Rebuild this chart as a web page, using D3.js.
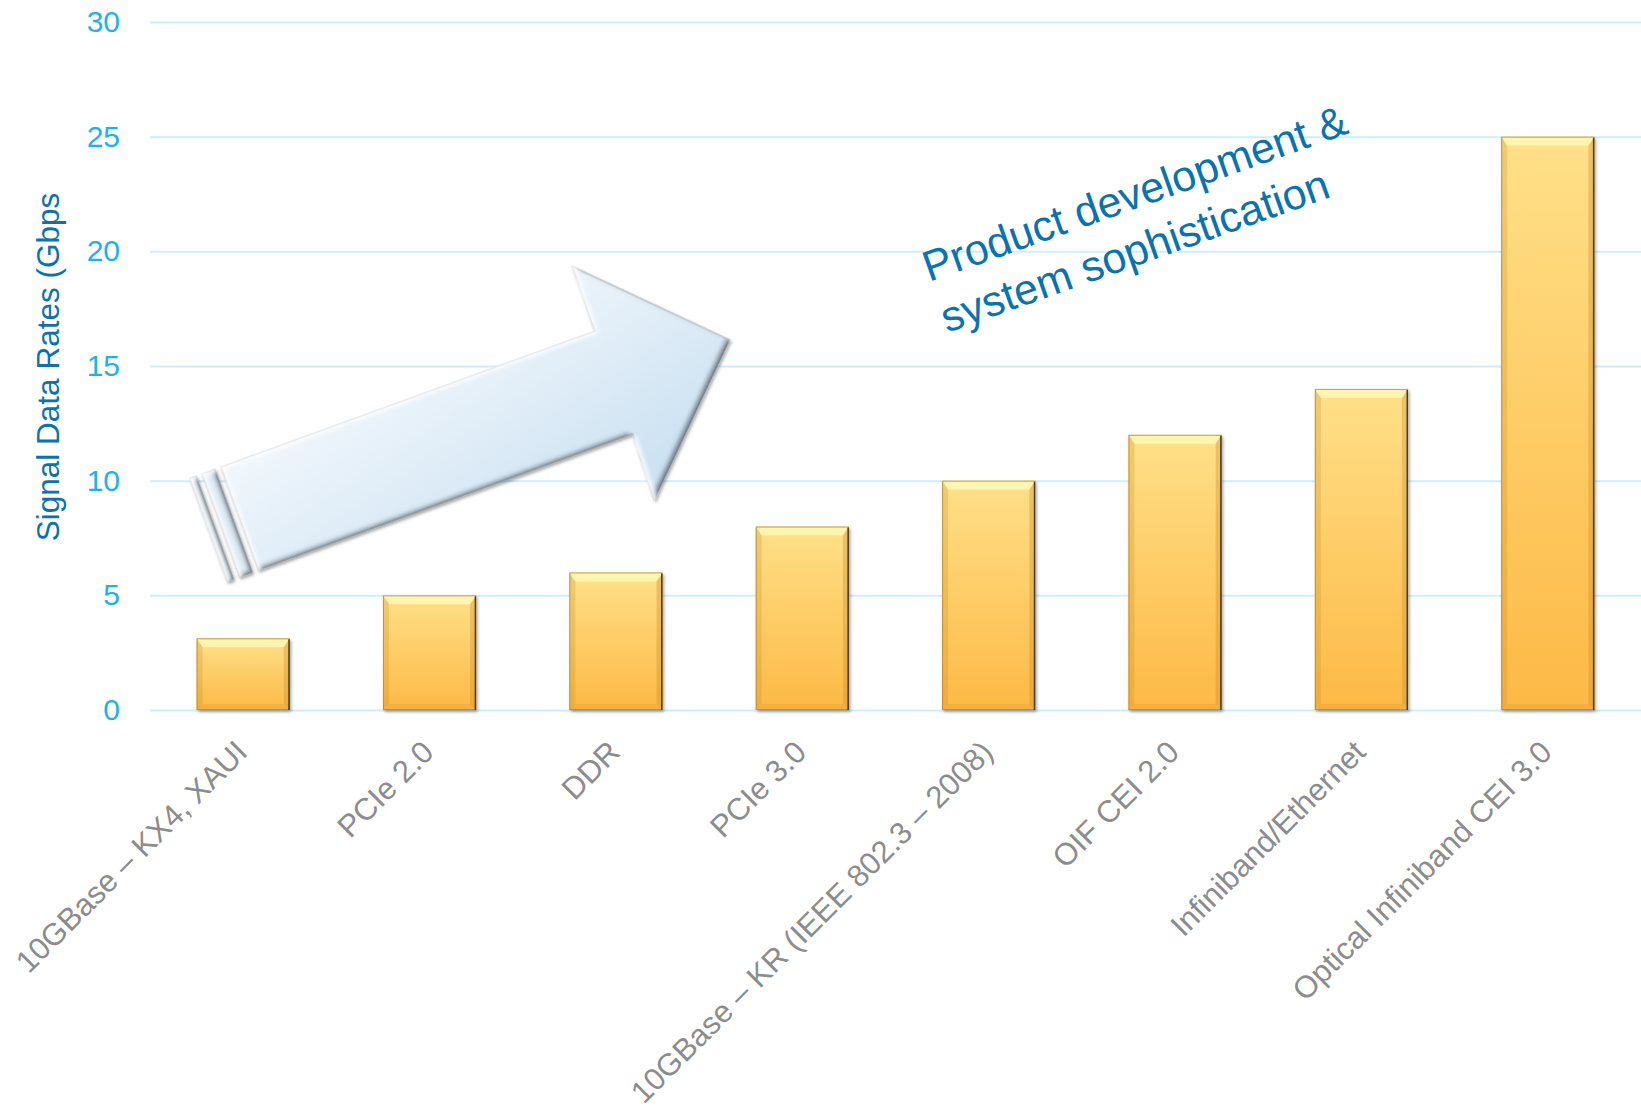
<!DOCTYPE html>
<html>
<head>
<meta charset="utf-8">
<script src="https://cdn.jsdelivr.net/npm/d3@7"></script>
<style>
  body { margin: 0; background: #ffffff; }
  svg { display: block; font-family: "Liberation Sans", Arial, sans-serif; }
</style>
</head>
<body>
<svg id="chart" width="1641" height="1109"></svg>
<script>
// Interface standards and their signal data rates (Gbps)
const categories = [
  "10GBase – KX4, XAUI",
  "PCIe 2.0",
  "DDR",
  "PCIe 3.0",
  "10GBase – KR (IEEE 802.3 – 2008)",
  "OIF CEI 2.0",
  "Infiniband/Ethernet",
  "Optical Infiniband CEI 3.0"
];
const rates = [3.125, 5, 6, 8, 10, 12, 14, 25];
const yTicks = [0, 5, 10, 15, 20, 25, 30];
const yTitle = "Signal Data Rates (Gbps";
const noteLines = ["Product development &", "system sophistication"];

const W = 1641, H = 1109;
const plotLeft = 150, plotTop = 22, plotBottom = 710;

const svg = d3.select("#chart");
const defs = svg.append("defs");

// Bar body gradient
const bg = defs.append("linearGradient").attr("id", "barFill")
  .attr("x1", 0).attr("y1", 0).attr("x2", 0).attr("y2", 1);
bg.append("stop").attr("offset", "0%").attr("stop-color", "#ffe089");
bg.append("stop").attr("offset", "100%").attr("stop-color", "#fdb945");

// Arrow gradient
const ag = defs.append("linearGradient").attr("id", "arrowFill")
  .attr("x1", 0).attr("y1", 0).attr("x2", 0.5).attr("y2", 1);
ag.append("stop").attr("offset", "0%").attr("stop-color", "#fbfdff");
ag.append("stop").attr("offset", "100%").attr("stop-color", "#cde2f2");

const shadow = defs.append("filter").attr("id", "shadow")
  .attr("x", "-10%").attr("y", "-10%").attr("width", "130%").attr("height", "130%");
shadow.append("feDropShadow").attr("dx", 1.5).attr("dy", 2).attr("stdDeviation", 1.6)
  .attr("flood-color", "#000").attr("flood-opacity", 0.35);

// Soft inner bevel: dark rim on the lower-right edges, light rim on the upper-left ones
const bevel = defs.append("filter").attr("id", "bevel")
  .attr("x", "-5%").attr("y", "-5%").attr("width", "110%").attr("height", "110%");
bevel.append("feGaussianBlur").attr("in", "SourceAlpha").attr("stdDeviation", 2.2).attr("result", "blur");
bevel.append("feOffset").attr("in", "blur").attr("dx", -3).attr("dy", -3).attr("result", "offA");
bevel.append("feComposite").attr("in", "SourceAlpha").attr("in2", "offA").attr("operator", "out").attr("result", "edgeBR");
bevel.append("feFlood").attr("flood-color", "#5f6d78").attr("flood-opacity", 0.85).attr("result", "darkC");
bevel.append("feComposite").attr("in", "darkC").attr("in2", "edgeBR").attr("operator", "in").attr("result", "darkEdge");
bevel.append("feOffset").attr("in", "blur").attr("dx", 3).attr("dy", 3).attr("result", "offB");
bevel.append("feComposite").attr("in", "SourceAlpha").attr("in2", "offB").attr("operator", "out").attr("result", "edgeTL");
bevel.append("feFlood").attr("flood-color", "#ffffff").attr("flood-opacity", 0.95).attr("result", "lightC");
bevel.append("feComposite").attr("in", "lightC").attr("in2", "edgeTL").attr("operator", "in").attr("result", "lightEdge");
const bm = bevel.append("feMerge");
bm.append("feMergeNode").attr("in", "SourceGraphic");
bm.append("feMergeNode").attr("in", "darkEdge");
bm.append("feMergeNode").attr("in", "lightEdge");

const x = d3.scaleBand().domain(categories).range([plotLeft, W])
  .paddingInner(0.5).paddingOuter(0.25);
const y = d3.scaleLinear().domain([0, 30]).range([plotBottom, plotTop]);

// Y axis with full-width gridlines
const yAxis = svg.append("g")
  .attr("transform", `translate(${plotLeft},0)`)
  .call(d3.axisLeft(y).tickValues(yTicks).tickSize(-(W - plotLeft)).tickPadding(30));
yAxis.select(".domain").remove();
yAxis.selectAll(".tick line").attr("stroke", "#cdeefc").attr("stroke-width", 2);
yAxis.selectAll(".tick text")
  .attr("fill", "#1fb0f2")
  .attr("font-size", 30)
  .attr("font-family", "Liberation Sans, Arial, sans-serif");

// Axis title
svg.append("text")
  .attr("transform", `translate(59,367) rotate(-90)`)
  .attr("text-anchor", "middle")
  .attr("fill", "#0c72ad")
  .attr("font-size", 31.5)
  .text(yTitle);

// Bars with bevelled edges
const bw = x.bandwidth();
const bars = svg.append("g").selectAll("g").data(categories).join("g")
  .attr("transform", d => `translate(${x(d)},0)`);

bars.append("rect")
  .attr("x", 0).attr("width", bw)
  .attr("y", (d, i) => y(rates[i]))
  .attr("height", (d, i) => y(0) - y(rates[i]))
  .attr("fill", "url(#barFill)")
  .attr("filter", "url(#shadow)");

const bt = 9, bs = 6, bb = 6;
bars.append("path")
  .attr("d", (d, i) => {
    const t = y(rates[i]);
    return `M0,${t} L${bw},${t} L${bw - bs},${t + bt} L${bs},${t + bt} Z`;
  })
  .attr("fill", "#fff6b0").attr("opacity", 0.95);
bars.append("path")
  .attr("d", (d, i) => {
    const t = y(rates[i]), b = y(0);
    return `M${bw},${t} L${bw - bs},${t + bt} L${bw - bs},${b - bb} L${bw},${b} Z`;
  })
  .attr("fill", "#c98a2c").attr("opacity", 0.35);
bars.append("path")
  .attr("d", (d, i) => {
    const t = y(rates[i]), b = y(0);
    return `M0,${t} L${bs},${t + bt} L${bs},${b - bb} L0,${b} Z`;
  })
  .attr("fill", "#c0801c").attr("opacity", 0.22);
bars.append("path")
  .attr("d", (d, i) => {
    const b = y(0);
    return `M0,${b} L${bs},${b - bb} L${bw - bs},${b - bb} L${bw},${b} Z`;
  })
  .attr("fill", "#e39b30").attr("opacity", 0.35);
bars.append("rect")
  .attr("x", 0.5).attr("width", bw - 1)
  .attr("y", (d, i) => y(rates[i]) + 0.5)
  .attr("height", (d, i) => y(0) - y(rates[i]) - 1)
  .attr("fill", "none")
  .attr("stroke", "#b08a3c").attr("stroke-opacity", 0.8).attr("stroke-width", 1);
bars.append("line")
  .attr("x1", bw - 0.75).attr("x2", bw - 0.75)
  .attr("y1", (d, i) => y(rates[i]) + 1)
  .attr("y2", y(0))
  .attr("stroke", "#4e3c1a").attr("stroke-width", 1.5);

// Category labels
svg.append("g").selectAll("text").data(categories).join("text")
  .attr("transform", d => `translate(${x(d) + bw / 2 + 6},754) rotate(-45)`)
  .attr("text-anchor", "end")
  .attr("fill", "#8c8c8c")
  .attr("font-size", 31)
  .text(d => d);

// Striped block arrow
const arrowOuter = svg.append("g").attr("filter", "url(#shadow)");
const arrow = arrowOuter.append("g")
  .attr("transform", "translate(239.7,518) rotate(-20)")
  .attr("filter", "url(#bevel)");
const arrowPath = "M0,-54 L398,-54 L399,-122 L521,0 L396,124 L398,55 L0,55 Z";
arrow.append("path")
  .attr("d", arrowPath)
  .attr("fill", "url(#arrowFill)")
  .attr("stroke", "#9aa6b0").attr("stroke-width", 1.2)
  .attr("stroke-linejoin", "miter");
[[-20, 13], [-33, 6]].forEach(([sx, sw]) => {
  arrow.append("rect")
    .attr("x", sx).attr("y", -54).attr("width", sw).attr("height", 109)
    .attr("fill", "#dfecf6")
    .attr("stroke", "#9aa6b0").attr("stroke-width", 1.2);
});

// Annotation
const note = svg.append("text")
  .attr("transform", "translate(929,282) rotate(-19.5)")
  .attr("fill", "#0a72ad")
  .attr("font-size", 43);
note.selectAll("tspan").data(noteLines).join("tspan")
  .attr("x", 0)
  .attr("dy", (d, i) => i === 0 ? 0 : 54)
  .text(d => d);
</script>
</body>
</html>
